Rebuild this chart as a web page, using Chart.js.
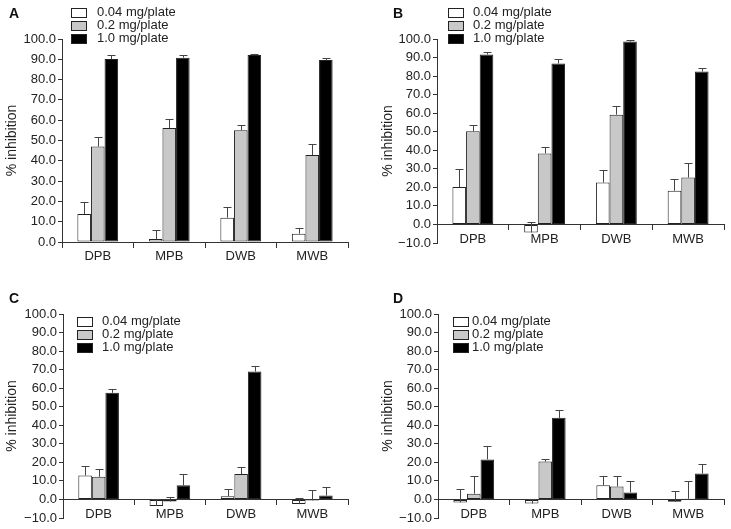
<!DOCTYPE html>
<html>
<head>
<meta charset="utf-8">
<title>% inhibition by extract</title>
<script src="https://cdn.jsdelivr.net/npm/chart.js"></script>
<style>
  body { margin: 0; background: #fff; }
  .panel { position: absolute; }
  .panel canvas { display: block; }
</style>
</head>
<body>
<div class="panel" style="left:0;top:0"><canvas id="chartA" width="365" height="264"></canvas></div>
<div class="panel" style="left:365px;top:0"><canvas id="chartB" width="366" height="264"></canvas></div>
<div class="panel" style="left:0;top:265px"><canvas id="chartC" width="365" height="264"></canvas></div>
<div class="panel" style="left:365px;top:265px"><canvas id="chartD" width="366" height="264"></canvas></div>
<script>
// data
const categories = ['DPB', 'MPB', 'DWB', 'MWB'];
const seriesLabels = ['0.04 mg/plate', '0.2 mg/plate', '1.0 mg/plate'];
const seriesColors = ['#ffffff', '#c8c8c8', '#000000'];

const ticksPos = [0, 10, 20, 30, 40, 50, 60, 70, 80, 90, 100];
const ticksNeg = [-10, 0, 10, 20, 30, 40, 50, 60, 70, 80, 90, 100];

// panel A
const aLow = [13.8, 1.5, 12.0, 4.1];
const aLowErr = [5.7, 4.2, 5.2, 2.6];
const aMid = [47.0, 56.2, 55.0, 42.9];
const aMidErr = [4.7, 4.4, 2.5, 5.2];
const aHigh = [90.1, 90.8, 92.1, 89.7];
const aHighErr = [2.0, 1.3, 0.5, 0.9];

// panel B
const bLow = [20.2, -4.3, 22.6, 18.2];
const bLowErr = [9.8, 5.6, 6.8, 6.5];
const bMid = [50.2, 38.3, 59.2, 25.3];
const bMidErr = [3.6, 3.6, 4.5, 7.6];
const bHigh = [91.7, 86.8, 98.6, 82.5];
const bHighErr = [1.1, 2.4, 0.7, 1.6];

// panel C
const cLow = [12.9, -3.5, 1.7, -2.5];
const cLowErr = [5.4, 3.5, 4.0, 3.2];
const cMid = [12.2, -1.1, 13.7, -0.5];
const cMidErr = [4.1, 2.6, 3.9, 5.7];
const cHigh = [57.5, 7.6, 69.0, 2.1];
const cHighErr = [1.8, 5.9, 2.9, 4.6];

// panel D
const dLow = [-1.6, -2.2, 7.6, -1.2];
const dLowErr = [7.5, 2.2, 5.2, 5.5];
const dMid = [3.1, 20.4, 7.0, 0.4];
const dMidErr = [9.7, 1.2, 5.4, 9.7];
const dHigh = [21.6, 44.0, 3.8, 14.0];
const dHighErr = [7.2, 4.5, 5.9, 5.3];

const FONT = '"Liberation Sans", Arial, sans-serif';
const INK = '#222';

// one-sided error bars, drawn from each bar's top
const errorBars = {
  id: 'errorBars',
  afterDatasetsDraw(chart) {
    const ctx = chart.ctx;
    const yScale = chart.scales.y;
    ctx.save();
    ctx.strokeStyle = '#444';
    ctx.lineWidth = 1;
    chart.data.datasets.forEach((ds, d) => {
      chart.getDatasetMeta(d).data.forEach((bar, i) => {
        const top = Math.round(yScale.getPixelForValue(ds.data[i] + ds.errors[i])) + 0.5;
        const x = Math.round(bar.x) + 0.5;
        ctx.beginPath();
        ctx.moveTo(x, bar.y);
        ctx.lineTo(x, top);
        ctx.moveTo(x - 4, top);
        ctx.lineTo(x + 4, top);
        ctx.stroke();
      });
    });
    ctx.restore();
  }
};

// stacked legend and panel letter
const panelDecor = {
  id: 'panelDecor',
  afterDraw(chart, args, opts) {
    const ctx = chart.ctx;
    ctx.save();
    ctx.textBaseline = 'middle';
    ctx.font = '13px ' + FONT;
    chart.data.datasets.forEach((ds, i) => {
      const y = opts.legendY + i * 13.4;
      ctx.fillStyle = ds.backgroundColor;
      ctx.fillRect(opts.legendX + 0.5, Math.round(y - 4.5) + 0.5, 15, 9);
      ctx.strokeStyle = INK;
      ctx.lineWidth = 1;
      ctx.strokeRect(opts.legendX + 0.5, Math.round(y - 4.5) + 0.5, 15, 9);
      ctx.fillStyle = INK;
      ctx.fillText(ds.label, opts.textX, y);
    });
    ctx.font = 'bold 14px ' + FONT;
    ctx.fillStyle = '#111';
    ctx.fillText(opts.letter, opts.letterX, opts.letterY);
    ctx.restore();
  }
};

function makeChart(id, cfg) {
  const datasets = cfg.values.map((vals, k) => ({
    label: seriesLabels[k],
    data: vals,
    errors: cfg.errors[k],
    backgroundColor: seriesColors[k],
    borderColor: INK,
    borderWidth: 1,
    borderSkipped: false,
    categoryPercentage: 0.57,
    barPercentage: 1.0
  }));
  return new Chart(document.getElementById(id), {
    type: 'bar',
    data: { labels: categories, datasets: datasets },
    plugins: [errorBars, panelDecor],
    options: {
      responsive: false,
      animation: false,
      devicePixelRatio: 1,
      layout: { padding: cfg.padding },
      plugins: {
        legend: { display: false },
        tooltip: { enabled: false },
        panelDecor: cfg.decor
      },
      scales: {
        x: {
          position: { y: 0 },
          grid: { offset: true, drawOnChartArea: false, drawTicks: true, tickLength: 5, color: '#333' },
          border: { display: true, color: '#333' },
          ticks: { color: INK, padding: 2, font: { family: FONT, size: 13 } }
        },
        y: {
          min: cfg.ticks[0],
          max: 100,
          afterBuildTicks: (s) => { s.ticks = cfg.ticks.map(v => ({ value: v })); },
          afterFit: (s) => { s.width = cfg.axisWidth; },
          grid: { drawOnChartArea: false, drawTicks: true, tickLength: 4, color: '#333' },
          border: { display: true, color: '#333' },
          ticks: {
            autoSkip: false,
            color: INK,
            padding: 2,
            font: { family: FONT, size: 13 },
            callback: (v) => (v < 0 ? '\u2212' + Math.abs(v).toFixed(1) : v.toFixed(1))
          },
          title: { display: true, text: '% inhibition', color: INK, font: { family: FONT, size: 14 } }
        }
      }
    }
  });
}

makeChart('chartA', {
  values: [aLow, aMid, aHigh], errors: [aLowErr, aMidErr, aHighErr],
  ticks: ticksPos, axisWidth: 62,
  padding: { left: 0, top: 39, right: 17, bottom: 22 },
  decor: { letter: 'A', letterX: 9, letterY: 14, legendX: 71, legendY: 12, textX: 97 }
});
makeChart('chartB', {
  values: [bLow, bMid, bHigh], errors: [bLowErr, bMidErr, bHighErr],
  ticks: ticksNeg, axisWidth: 61,
  padding: { left: 11, top: 39, right: 7, bottom: 21 },
  decor: { letter: 'B', letterX: 28, letterY: 14, legendX: 83, legendY: 12, textX: 108 }
});
makeChart('chartC', {
  values: [cLow, cMid, cHigh], errors: [cLowErr, cMidErr, cHighErr],
  ticks: ticksNeg, axisWidth: 63,
  padding: { left: 0, top: 49, right: 17, bottom: 11 },
  decor: { letter: 'C', letterX: 9, letterY: 34, legendX: 77, legendY: 56, textX: 102 }
});
makeChart('chartD', {
  values: [dLow, dMid, dHigh], errors: [dLowErr, dMidErr, dHighErr],
  ticks: ticksNeg, axisWidth: 62,
  padding: { left: 11, top: 49, right: 7, bottom: 11 },
  decor: { letter: 'D', letterX: 28, letterY: 34, legendX: 88, legendY: 56, textX: 107 }
});
</script>
</body>
</html>
